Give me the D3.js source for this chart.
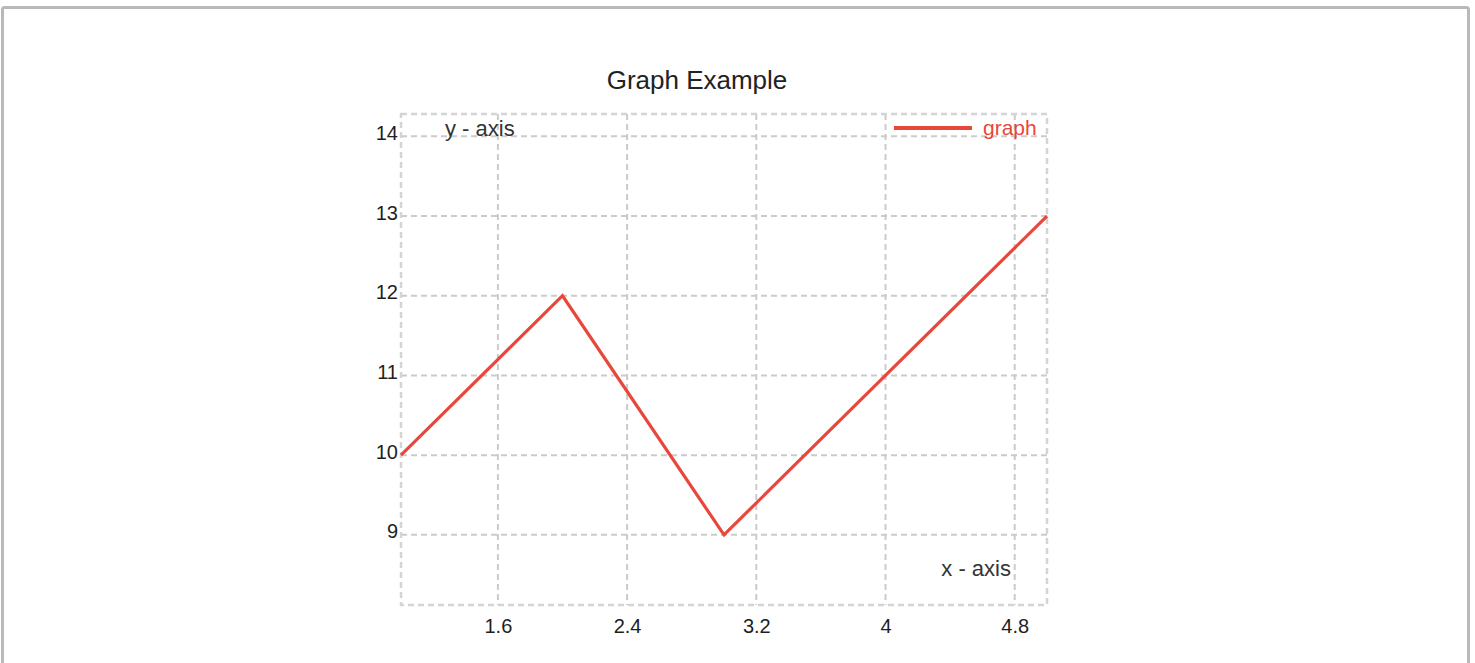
<!DOCTYPE html>
<html><head><meta charset="utf-8">
<script src="https://cdn.jsdelivr.net/npm/d3@7"></script>
<style>
html,body{margin:0;padding:0;background:#fff;}
svg{display:block;}
text{font-family:"Liberation Sans",Arial,sans-serif;}
</style></head>
<body>
<svg id="chart" width="1475" height="663"></svg>
<script>
const xValues = [1, 2, 3, 4, 5];
const yValues = [10, 12, 9, 11, 13];
const xTicks = [1.6, 2.4, 3.2, 4, 4.8];
const yTicks = [9, 10, 11, 12, 13, 14];
const xDomain = [1, 5];
const yDomain = [8.12, 14.28];
const title = "Graph Example";
const seriesName = "graph";
const xLabel = "x - axis";
const yLabel = "y - axis";

const svg = d3.select("#chart");
const m = {left: 401, right: 1047, top: 114, bottom: 605};
const lineColor = "#e8473b";
const gridColor = "#cbcbcb";
const FONT = "'Liberation Sans',Arial,sans-serif";

// outer border
svg.append("rect").attr("x", 2.5).attr("y", 7.5).attr("width", 1466).attr("height", 700)
  .attr("rx", 2).attr("fill", "#fff").attr("stroke", "#b9b9b9").attr("stroke-width", 3);

const x = d3.scaleLinear().domain(xDomain).range([m.left, m.right]);
const y = d3.scaleLinear().domain(yDomain).range([m.bottom, m.top]);

// grid
const grid = svg.append("g");
grid.selectAll("line.v").data(xTicks).join("line")
  .attr("x1", d => x(d)).attr("x2", d => x(d)).attr("y1", m.top).attr("y2", m.bottom)
  .attr("stroke", gridColor).attr("stroke-width", 2).attr("stroke-dasharray", "6,4");
grid.selectAll("line.h").data(yTicks).join("line")
  .attr("y1", d => y(d)).attr("y2", d => y(d)).attr("x1", m.left).attr("x2", m.right)
  .attr("stroke", gridColor).attr("stroke-width", 2).attr("stroke-dasharray", "6,4");
// frame
svg.append("rect").attr("x", m.left).attr("y", m.top)
  .attr("width", m.right - m.left).attr("height", m.bottom - m.top)
  .attr("fill", "none").attr("stroke", "#d4d4d4").attr("stroke-width", 2.5)
  .attr("stroke-dasharray", "6,4");

// axes (labels only)
const xAxis = d3.axisBottom(x).tickValues(xTicks).tickSize(0)
  .tickFormat(d => String(+d.toFixed(1)));
const gx = svg.append("g").attr("transform", `translate(0,${m.bottom})`).call(xAxis);
gx.select(".domain").remove();
gx.selectAll("text").attr("y", 28).attr("dy", "0").attr("font-size", 20).attr("fill", "#1e1e1e")
  .style("font-family", FONT);

const yAxis = d3.axisLeft(y).tickValues(yTicks).tickSize(0).tickPadding(3)
  .tickFormat(d3.format("d"));
const gy = svg.append("g").attr("transform", `translate(${m.left},0)`).call(yAxis);
gy.select(".domain").remove();
gy.selectAll("text").attr("dy", "3").attr("font-size", 20).attr("fill", "#1e1e1e")
  .style("font-family", FONT);

// data line
const data = xValues.map((v, i) => ({x: v, y: yValues[i]}));
svg.append("path").datum(data)
  .attr("d", d3.line().x(d => x(d.x)).y(d => y(d.y)))
  .attr("fill", "none").attr("stroke", lineColor).attr("stroke-width", 3.2)
  .attr("stroke-linejoin", "miter");

// title
svg.append("text").attr("x", 697).attr("y", 89).attr("text-anchor", "middle")
  .attr("font-size", 26).attr("fill", "#222").text(title);

// axis name labels
svg.append("text").attr("x", 445).attr("y", 136).attr("font-size", 22).attr("fill", "#333").text(yLabel);
svg.append("text").attr("x", 1011).attr("y", 576).attr("text-anchor", "end")
  .attr("font-size", 22).attr("fill", "#333").text(xLabel);

// legend
svg.append("line").attr("x1", 894).attr("x2", 972).attr("y1", 128).attr("y2", 128)
  .attr("stroke", lineColor).attr("stroke-width", 4);
svg.append("text").attr("x", 983).attr("y", 135).attr("font-size", 21)
  .attr("fill", lineColor).text(seriesName);
</script>
</body></html>
